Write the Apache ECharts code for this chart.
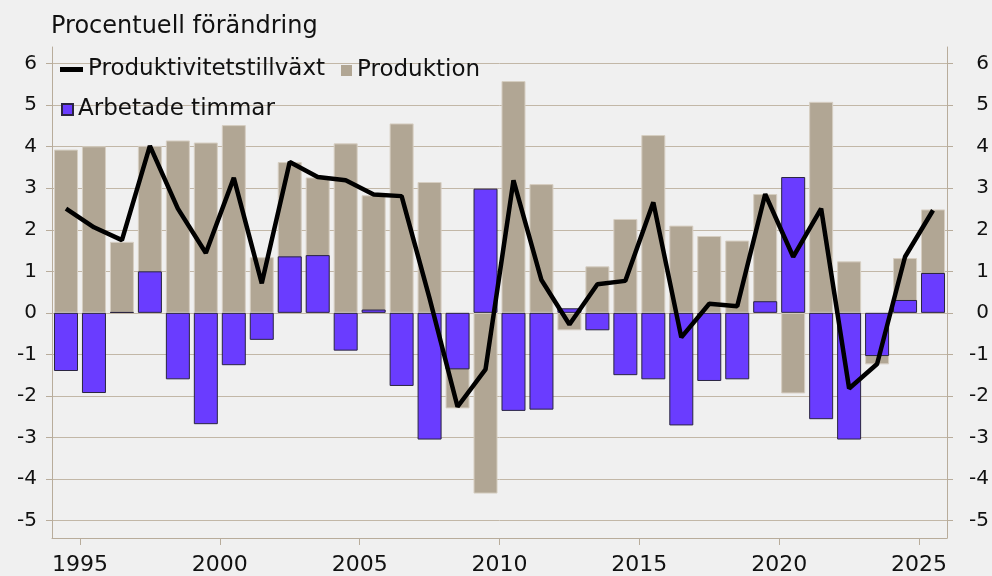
<!DOCTYPE html>
<html><head><meta charset="utf-8">
<script src="https://cdn.jsdelivr.net/npm/echarts@6/dist/echarts.min.js"></script>
<style>html,body{margin:0;padding:0;background:#f0f0f0;} #c{width:992px;height:576px;}</style>
</head><body><div id="c"></div>
<script>
const years = [1994,1995,1996,1997,1998,1999,2000,2001,2002,2003,2004,2005,2006,2007,2008,2009,2010,2011,2012,2013,2014,2015,2016,2017,2018,2019,2020,2021,2022,2023,2024,2025];
const produktion = [3.93,4.01,1.71,4.02,4.15,4.10,4.52,1.34,3.63,3.26,4.08,2.83,4.56,3.15,-2.30,-4.35,5.58,3.10,-0.42,1.12,2.26,4.28,2.10,1.85,1.74,2.86,-1.94,5.08,1.24,-1.24,1.32,2.49];
const arbetadeTimmar = [-1.40,-1.93,0.02,1.00,-1.60,-2.68,-1.26,-0.65,1.36,1.39,-0.91,0.08,-1.76,-3.05,-1.36,2.99,-2.36,-2.33,0.11,-0.42,-1.50,-1.60,-2.71,-1.64,-1.60,0.28,3.27,-2.56,-3.05,-1.04,0.31,0.96];
const produktivitet = [2.51,2.06,1.75,4.02,2.51,1.44,3.25,0.71,3.63,3.27,3.19,2.85,2.81,0.35,-2.26,-1.36,3.19,0.79,-0.28,0.69,0.77,2.66,-0.59,0.22,0.16,2.86,1.35,2.51,-1.82,-1.23,1.35,2.47];
const yTicks = [-5,-4,-3,-2,-1,0,1,2,3,4,5,6];
const xTicks = [1995,2000,2005,2010,2015,2020,2025];
const names = ['Produktivitetstillväxt','Produktion','Arbetade timmar'];

const FONT = 'DejaVu Sans';
const AX = '#b8ac9b';
const pair = arr => years.map((y,i)=>[y+0.5, arr[i]]);

const chart = echarts.init(document.getElementById('c'));
chart.setOption({
  backgroundColor:'#f0f0f0',
  animation:false,
  textStyle:{fontFamily:FONT},
  title:{text:'Procentuell förändring', left:51, top:15, padding:0,
    textStyle:{fontSize:24, fontWeight:'normal', color:'#111', fontFamily:FONT}},
  legend:[
    {data:[names[0]], left:60, top:58, padding:0, icon:'rect', itemWidth:23, itemHeight:5,
      textStyle:{fontSize:23, color:'#111', fontFamily:FONT}},
    {data:[names[1]], left:341, top:59, padding:0, icon:'rect', itemWidth:11, itemHeight:11,
      itemStyle:{borderWidth:0},
      textStyle:{fontSize:23, color:'#111', fontFamily:FONT}},
    {data:[names[2]], left:61, top:98, padding:0, icon:'rect', itemWidth:11, itemHeight:11,
      textStyle:{fontSize:23, color:'#111', fontFamily:FONT}}
  ],
  grid:{left:52, right:44, top:47, bottom:38},
  xAxis:{type:'value', min:1994, max:2026,
    axisLine:{show:true, onZero:false, lineStyle:{color:AX, width:1}},
    axisTick:{show:true, customValues:xTicks, length:7, lineStyle:{color:AX}},
    axisLabel:{customValues:xTicks, fontSize:22, color:'#111', margin:16, fontFamily:FONT,
      formatter: v => String(v)},
    splitLine:{show:false}},
  yAxis:[
    {type:'value', min:-5.42, max:6.4, position:'left',
      axisLine:{show:true, onZero:false, lineStyle:{color:AX}},
      axisTick:{show:true, customValues:yTicks, length:6, lineStyle:{color:AX}},
      axisLabel:{customValues:yTicks, fontSize:20, color:'#111', margin:15, fontFamily:FONT},
      splitLine:{show:true, lineStyle:{color:'#c2b7a7', width:1}}},
    {type:'value', min:-5.42, max:6.4, position:'right',
      axisLine:{show:true, onZero:false, lineStyle:{color:AX}},
      axisTick:{show:true, customValues:yTicks, length:6, lineStyle:{color:AX}},
      axisLabel:{customValues:yTicks, fontSize:20, color:'#111', margin:42, align:'right', fontFamily:FONT},
      splitLine:{show:false}}
  ],
  series:[
    {name:names[1], type:'bar', data:pair(produktion), barWidth:24, barGap:'-100%', z:2,
      itemStyle:{color:'#b1a694', borderColor:'#d6cec2', borderWidth:1}},
    {name:names[2], type:'bar', data:pair(arbetadeTimmar), barWidth:24, barGap:'-100%', z:3,
      itemStyle:{color:'#6a3cff', borderColor:'#2a2540', borderWidth:1}},
    {name:names[0], type:'line', data:pair(produktivitet), symbol:'none', z:4,
      lineStyle:{color:'#000', width:4.5}, itemStyle:{color:'#000'}}
  ]
});
</script></body></html>
